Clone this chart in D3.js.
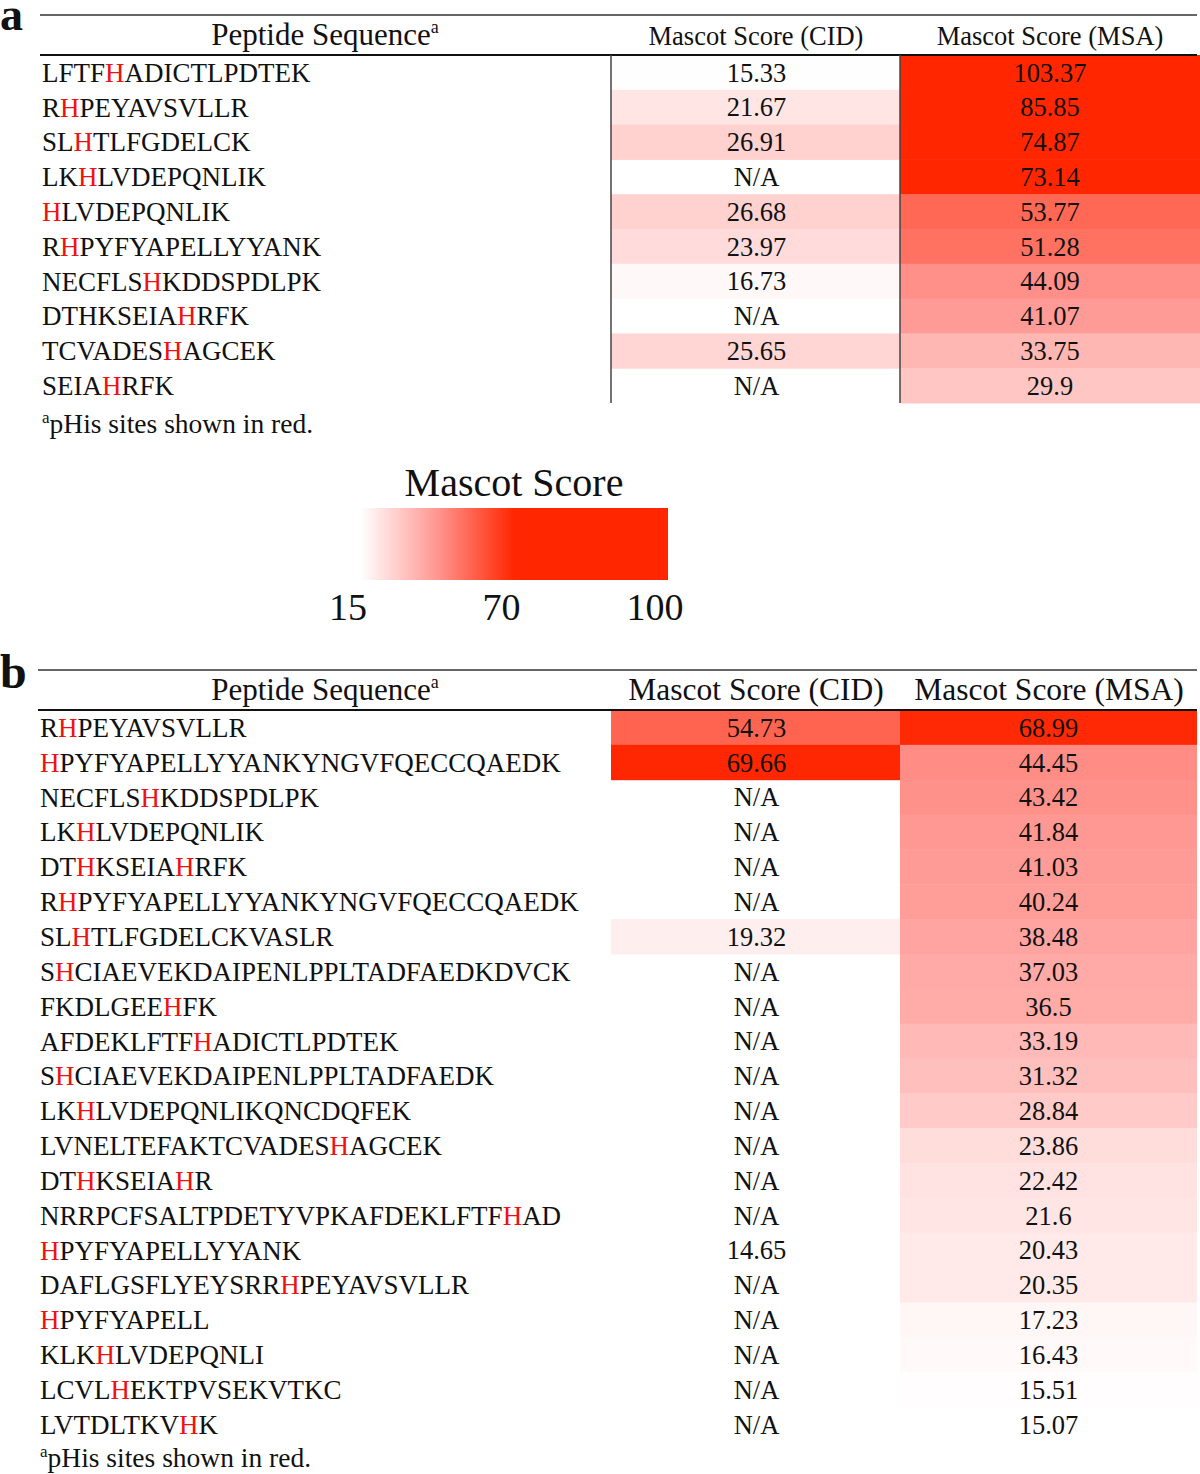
<!DOCTYPE html>
<html>
<head>
<meta charset="utf-8">
<script src="https://cdn.jsdelivr.net/npm/d3@7"></script>
<style>
  html, body { margin: 0; padding: 0; background: #fff; }
  svg { display: block; font-family: "Liberation Serif", "Times New Roman", serif; }
</style>
</head>
<body>
<svg id="chart" width="1200" height="1474"></svg>
<script>
// ---------- DATA ----------
const peptidesA = ["LFTFHADICTLPDTEK","RHPEYAVSVLLR","SLHTLFGDELCK","LKHLVDEPQNLIK","HLVDEPQNLIK",
  "RHPYFYAPELLYYANK","NECFLSHKDDSPDLPK","DTHKSEIAHRFK","TCVADESHAGCEK","SEIAHRFK"];
const phisA = [[4],[1],[2],[2],[0],[1],[6],[8],[7],[4]];
const cidA = [15.33, 21.67, 26.91, null, 26.68, 23.97, 16.73, null, 25.65, null];
const msaA = [103.37, 85.85, 74.87, 73.14, 53.77, 51.28, 44.09, 41.07, 33.75, 29.9];

const peptidesB = ["RHPEYAVSVLLR","HPYFYAPELLYYANKYNGVFQECCQAEDK","NECFLSHKDDSPDLPK","LKHLVDEPQNLIK",
  "DTHKSEIAHRFK","RHPYFYAPELLYYANKYNGVFQECCQAEDK","SLHTLFGDELCKVASLR","SHCIAEVEKDAIPENLPPLTADFAEDKDVCK",
  "FKDLGEEHFK","AFDEKLFTFHADICTLPDTEK","SHCIAEVEKDAIPENLPPLTADFAEDK","LKHLVDEPQNLIKQNCDQFEK",
  "LVNELTEFAKTCVADESHAGCEK","DTHKSEIAHR","NRRPCFSALTPDETYVPKAFDEKLFTFHAD","HPYFYAPELLYYANK",
  "DAFLGSFLYEYSRRHPEYAVSVLLR","HPYFYAPELL","KLKHLVDEPQNLI","LCVLHEKTPVSEKVTKC","LVTDLTKVHK"];
const phisB = [[1],[0],[6],[2],[2,8],[1],[2],[1],[7],[9],[1],[2],[17],[2,8],[27],[0],[14],[0],[3],[4],[8]];
const cidB = [54.73, 69.66, null, null, null, null, 19.32, null, null, null, null, null, null, null, null, 14.65,
  null, null, null, null, null];
const msaB = [68.99, 44.45, 43.42, 41.84, 41.03, 40.24, 38.48, 37.03, 36.5, 33.19, 31.32, 28.84, 23.86, 22.42,
  21.6, 20.43, 20.35, 17.23, 16.43, 15.51, 15.07];

const headers = ["Peptide Sequence", "Mascot Score (CID)", "Mascot Score (MSA)"];
const legendTitle = "Mascot Score";
const legendTicks = ["15", "70", "100"];
const footnote = "pHis sites shown in red.";

// ---------- SCALES ----------
const color = d3.scaleLinear().domain([15, 42.5, 70]).range(["#ffffff", "#ff9590", "#ff2600"]).clamp(true);
const RED_TEXT = "#ee1111";
const INK = "#111";

const svg = d3.select("#chart");

function drawTable(cfg) {
  const g = svg.append("g");
  const n = cfg.peptides.length;
  const y = d3.scaleBand().domain(d3.range(n)).range([cfg.top, cfg.top + n * cfg.step]);
  const colX = d3.scaleOrdinal().domain(["cid", "msa"]).range([[611, 900], [900, cfg.right]]);

  // panel letter
  g.append("text").attr("x", 0).attr("y", cfg.letterY)
    .attr("font-size", cfg.letterSize).attr("font-weight", "bold").attr("fill", INK).text(cfg.letter);

  // cells
  ["cid", "msa"].forEach(key => {
    const vals = cfg[key];
    const [x0, x1] = colX(key);
    g.selectAll("rect." + key).data(vals.map((v, i) => ({v, i})).filter(d => d.v !== null))
      .join("rect").attr("class", key)
      .attr("x", x0).attr("width", x1 - x0)
      .attr("y", d => y(d.i)).attr("height", y.bandwidth() + 0.5)
      .attr("fill", d => color(d.v));
    g.selectAll("text." + key).data(vals.map((v, i) => ({v, i})))
      .join("text").attr("class", key)
      .attr("x", (x0 + x1) / 2 + (key === "msa" ? 0 : 1)).attr("y", d => y(d.i) + y.bandwidth() / 2)
      .attr("dy", "0.35em").attr("text-anchor", "middle").attr("font-size", 26.5).attr("fill", INK)
      .text(d => d.v === null ? "N/A" : String(d.v));
  });

  // peptide text with red pHis
  const pep = g.selectAll("text.pep").data(cfg.peptides.map((p, i) => ({p, i})))
    .join("text").attr("class", "pep")
    .attr("x", cfg.pepX).attr("y", d => y(d.i) + y.bandwidth() / 2).attr("dy", "0.35em")
    .attr("font-size", 27).attr("fill", INK);
  pep.each(function(d) {
    const t = d3.select(this);
    const reds = cfg.phis[d.i];
    let cur = "", curRed = false;
    const flush = () => { if (cur) t.append("tspan").attr("fill", curRed ? RED_TEXT : INK).text(cur); };
    d.p.split("").forEach((ch, k) => {
      const isRed = reds.includes(k);
      if (isRed !== curRed) { flush(); cur = ""; curRed = isRed; }
      cur += ch;
    });
    flush();
  });

  // header
  const hy = cfg.top - 10;
  const h0 = g.append("text").attr("x", 325).attr("y", hy).attr("text-anchor", "middle")
    .attr("font-size", 31).attr("fill", INK);
  h0.append("tspan").text(headers[0]);
  h0.append("tspan").attr("font-size", 18).attr("dy", -12).text("a");
  g.append("text").attr("x", 756).attr("y", hy).attr("text-anchor", "middle")
    .attr("font-size", cfg.hSize).attr("fill", INK).text(headers[1]);
  g.append("text").attr("x", cfg.msaHeadX).attr("y", hy).attr("text-anchor", "middle")
    .attr("font-size", cfg.hSize).attr("fill", INK).text(headers[2]);

  // rules
  g.append("line").attr("x1", cfg.ruleX).attr("x2", 1197).attr("y1", cfg.top - 40).attr("y2", cfg.top - 40)
    .attr("stroke", "#333").attr("stroke-width", 1.6);
  g.append("line").attr("x1", cfg.ruleX).attr("x2", 1197).attr("y1", cfg.top).attr("y2", cfg.top)
    .attr("stroke", "#111").attr("stroke-width", 2.2);

  if (cfg.vlines) {
    [611, 900].forEach(x => g.append("line").attr("x1", x).attr("x2", x)
      .attr("y1", cfg.top).attr("y2", cfg.top + n * cfg.step)
      .attr("stroke", "#444").attr("stroke-width", 1.5));
  }

  // footnote
  const fy = cfg.top + n * cfg.step + cfg.footGap;
  const f = g.append("text").attr("x", cfg.pepX).attr("y", fy).attr("font-size", 27.5).attr("fill", INK);
  f.append("tspan").attr("font-size", 17).attr("dy", -10).text("a");
  f.append("tspan").attr("dy", 10).text(footnote);
}

drawTable({letter: "a", letterY: 30, letterSize: 46, top: 55, step: 34.8, peptides: peptidesA, phis: phisA, cid: cidA, msa: msaA,
  pepX: 42, right: 1200, hSize: 26.5, msaHeadX: 1050, ruleX: 40, vlines: true, footGap: 30});
drawTable({letter: "b", letterY: 688, letterSize: 48, top: 710, step: 34.85, peptides: peptidesB, phis: phisB, cid: cidB, msa: msaB,
  pepX: 40, right: 1197, hSize: 31.5, msaHeadX: 1049, ruleX: 38, vlines: false, footGap: 25});

// ---------- LEGEND ----------
const defs = svg.append("defs");
const grad = defs.append("linearGradient").attr("id", "lg").attr("x1", "0%").attr("x2", "100%");
[[0, 15], [0.25, 42.5], [0.5, 70], [1, 100]].forEach(([o, v]) =>
  grad.append("stop").attr("offset", o).attr("stop-color", color(v)));
const legX = d3.scalePoint().domain(legendTicks).range([348, 655]);
svg.append("rect").attr("x", 361).attr("y", 508).attr("width", 307).attr("height", 72).attr("fill", "url(#lg)");
svg.append("text").attr("x", 514).attr("y", 496).attr("text-anchor", "middle").attr("font-size", 40)
  .attr("fill", INK).text(legendTitle);
svg.selectAll("text.lt").data(legendTicks).join("text").attr("class", "lt")
  .attr("x", d => legX(d)).attr("y", 620).attr("text-anchor", "middle").attr("font-size", 38)
  .attr("fill", INK).text(d => d);
</script>
</body>
</html>
